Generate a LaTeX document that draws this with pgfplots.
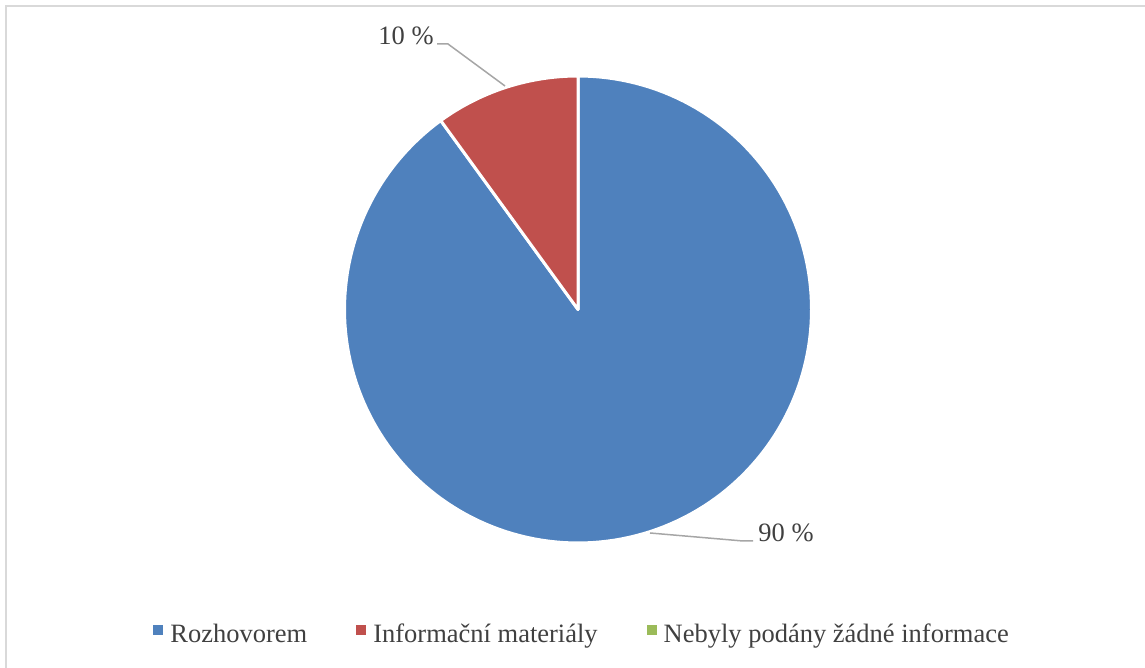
\documentclass[border=0pt]{standalone}
\usepackage{fontspec}
\setmainfont{Liberation Serif}
\usepackage{pgfplots}
\pgfplotsset{compat=1.18}

\definecolor{sliceA}{HTML}{4F81BD}
\definecolor{sliceB}{HTML}{C0504D}
\definecolor{sliceC}{HTML}{9BBB59}
\definecolor{txt}{HTML}{404040}
\definecolor{leader}{HTML}{A6A6A6}
\definecolor{frame}{HTML}{D9D9D9}

% shares in percent
\def\vA{90}  % Rozhovorem
\def\vB{10}  % Informační materiály
\def\vC{0}   % Nebyly podány žádné informace

% pie centre and radius (axis units)
\def\cx{578}
\def\cy{358.5}
\def\rr{233.5}

\begin{document}
\begin{tikzpicture}
\begin{axis}[
  x=0.5pt, y=0.5pt,
  xmin=0, xmax=1145, ymin=0, ymax=668,
  scale only axis,
  hide axis,
  clip=true,
  font=\fontsize{13.25}{15}\selectfont,
  legend style={
    at={(axis cs:153,33.5)}, anchor=west,
    draw=none, fill=none, inner sep=0pt,
    text=txt,
    nodes={inner sep=0pt},
    /tikz/every odd column/.append style={column sep=3.5pt},
    /tikz/every even column/.append style={column sep=24.5pt},
  },
  legend columns=3,
  legend image code/.code={\path[#1,draw=none] (0pt,-0.5pt) rectangle (5pt,4.5pt);},
]
\path (axis cs:0,0) rectangle (axis cs:1145,668);

% slices, clockwise from twelve o'clock
\pgfmathsetmacro{\aEnd}{3.6*\vA}
\pgfmathsetmacro{\bEnd}{3.6*(\vA+\vB)}
\addplot[fill=sliceA, draw=white, line width=1.5pt, line join=round,
  domain=0:\aEnd, samples=181, variable=\t]
  ({\cx+\rr*sin(\t)}, {\cy+\rr*cos(\t)}) -- (axis cs:\cx,\cy) -- cycle;
\addlegendentry{Rozhovorem}
\addplot[fill=sliceB, draw=white, line width=1.5pt, line join=round,
  domain=\aEnd:\bEnd, samples=31, variable=\t]
  ({\cx+\rr*sin(\t)}, {\cy+\rr*cos(\t)}) -- (axis cs:\cx,\cy) -- cycle;
\addlegendentry{Informační materiály}
\addlegendimage{fill=sliceC}
\addlegendentry{Nebyly podány žádné informace}

% leader lines
\addplot[forget plot, leader, line width=0.75pt] coordinates {(437,624) (448,624) (505,582)};
\addplot[forget plot, leader, line width=0.75pt] coordinates {(650,135) (743,127) (753,127)};

% data labels
\node[anchor=base west, text=txt, inner sep=0pt] at (axis cs:378,623) {\vB\ \%};
\node[anchor=base west, text=txt, inner sep=0pt] at (axis cs:758,126) {\vA\ \%};

% chart area border
\addplot[forget plot, frame, line width=1pt] coordinates {(6,0) (6,662) (1145,662)};
\end{axis}
\end{tikzpicture}
\end{document}
